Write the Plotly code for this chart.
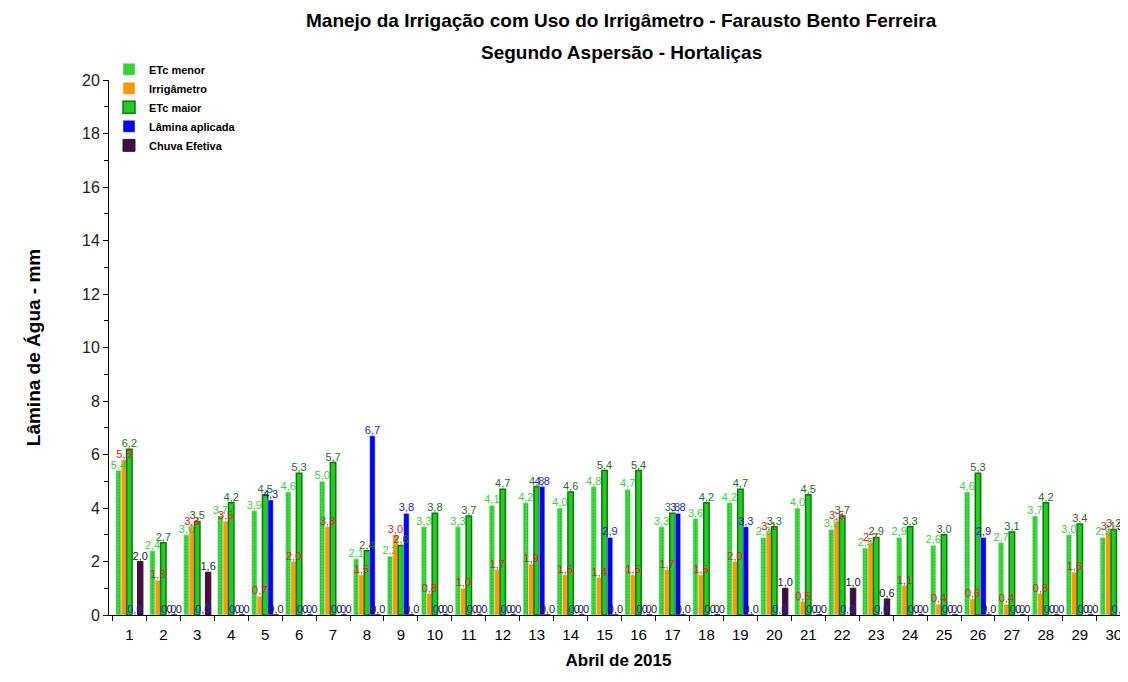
import plotly.graph_objects as go

days = [str(d) for d in range(1, 31)]
etc_menor = [5.4, 2.4, 3.0, 3.7, 3.9, 4.6, 5.0, 2.1, 2.2, 3.3, 3.3, 4.1, 4.2, 4.0, 4.8,
             4.7, 3.3, 3.6, 4.2, 2.9, 4.0, 3.2, 2.5, 2.9, 2.6, 4.6, 2.7, 3.7, 3.0, 2.9]
irrigametro = [5.8, 1.3, 3.3, 3.5, 0.7, 2.0, 3.3, 1.5, 3.0, 0.8, 1.0, 1.7, 1.9, 1.5, 1.4,
               1.5, 1.7, 1.5, 2.0, 3.1, 0.5, 3.5, 2.7, 1.1, 0.4, 0.6, 0.4, 0.8, 1.6, 3.1]
etc_maior = [6.2, 2.7, 3.5, 4.2, 4.5, 5.3, 5.7, 2.4, 2.6, 3.8, 3.7, 4.7, 4.8, 4.6, 5.4,
             5.4, 3.8, 4.2, 4.7, 3.3, 4.5, 3.7, 2.9, 3.3, 3.0, 5.3, 3.1, 4.2, 3.4, 3.2]
lamina = [0.0, 0.0, 0.0, 0.0, 4.3, 0.0, 0.0, 6.7, 3.8, 0.0, 0.0, 0.0, 4.8, 0.0, 2.9,
          0.0, 3.8, 0.0, 3.3, 0.0, 0.0, 0.0, 0.0, 0.0, 0.0, 2.9, 0.0, 0.0, 0.0, 0.0]
chuva = [2.0, 0.0, 1.6, 0.0, 0.0, 0.0, 0.0, 0.0, 0.0, 0.0, 0.0, 0.0, 0.0, 0.0, 0.0,
         0.0, 0.0, 0.0, 0.0, 1.0, 0.0, 1.0, 0.6, 0.0, 0.0, 0.0, 0.0, 0.0, 0.0, 3.1]

FONT = "Liberation Sans, Arial, sans-serif"


def fmt(vals):
    return [f"{v:.1f}".replace(".", ",") for v in vals]


series = [
    ("ETc menor", etc_menor, dict(color="#3ddc3d", pattern=dict(shape=".", fgcolor="#1a9a1a", size=3, solidity=0.3)), "#44cc44"),
    ("Irrigâmetro", irrigametro, dict(color="#ff9900"), "#dd2222"),
    ("ETc maior", etc_maior, dict(color="#22cc22", line=dict(color="#0a7a0a", width=1.5)), "#2a6a2a"),
    ("Lâmina aplicada", lamina, dict(color="#0000ff"), "#2222cc"),
    ("Chuva Efetiva", chuva, dict(color="#4a0a4a", line=dict(color="#222222", width=1)), "#222222"),
]

BW = 0.16
fig = go.Figure()
# bars
for i, (name, vals, marker, tcol) in enumerate(series):
    fig.add_trace(go.Bar(
        x=days, y=vals, name=name, marker=marker,
        width=BW, offset=-0.4 + i * BW,
        cliponaxis=True,
    ))
# value labels drawn on top of all bars
for i, (name, vals, marker, tcol) in enumerate(series):
    fig.add_trace(go.Bar(
        x=days, y=vals, name=name, showlegend=False, hoverinfo="skip",
        marker=dict(color="rgba(0,0,0,0)", line=dict(width=0)),
        width=BW, offset=-0.4 + i * BW,
        text=fmt(vals), textposition="outside", constraintext="none",
        textfont=dict(family=FONT, size=11, color=tcol),
        cliponaxis=False,
    ))

# page body has an 8px margin on each side, so the figure is sized to fit the window
fig.update_layout(
    width=1120, height=666,
    barmode="overlay",
    plot_bgcolor="white", paper_bgcolor="white",
    margin=dict(l=101, r=0, t=72, b=59, autoexpand=False),
    font=dict(family=FONT, color="black"),
    legend=dict(
        x=0.0, y=1.047, xanchor="left", yanchor="top",
        font=dict(family=FONT, size=11, color="black", weight="bold"),
        bgcolor="rgba(0,0,0,0)", itemwidth=30, tracegroupgap=0,
    ),
    showlegend=True,
    annotations=[
        dict(text="<b>Manejo da Irrigação com Uso do Irrigâmetro - Farausto Bento Ferreira</b>",
             xref="paper", yref="paper", x=0.503, y=1.112, xanchor="center", yanchor="middle",
             showarrow=False, font=dict(family=FONT, size=19, color="black")),
        dict(text="<b>Segundo Aspersão - Hortaliças</b>",
             xref="paper", yref="paper", x=0.503, y=1.052, xanchor="center", yanchor="middle",
             showarrow=False, font=dict(family=FONT, size=19, color="black")),
    ],
)
fig.update_xaxes(
    type="category", range=[-0.6, 29.42], showline=True, linecolor="black", linewidth=1,
    ticks="outside", tickson="boundaries", ticklen=5, tickcolor="black",
    tickfont=dict(family=FONT, size=15, color="black"), ticklabelstandoff=6,
    title=dict(text="<b>Abril de 2015</b>", font=dict(family=FONT, size=17), standoff=12),
    showgrid=False,
)
fig.update_yaxes(
    range=[0, 20], dtick=2, showline=True, linecolor="black", linewidth=1,
    ticks="outside", ticklen=5, tickcolor="black",
    minor=dict(dtick=1, ticks="outside", ticklen=4, tickcolor="black"),
    tickfont=dict(family=FONT, size=16, color="#222222"),
    title=dict(text="<b>Lâmina de Água - mm</b>", font=dict(family=FONT, size=19), standoff=36),
    showgrid=False, zeroline=False,
)

fig.write_html("out.html")
